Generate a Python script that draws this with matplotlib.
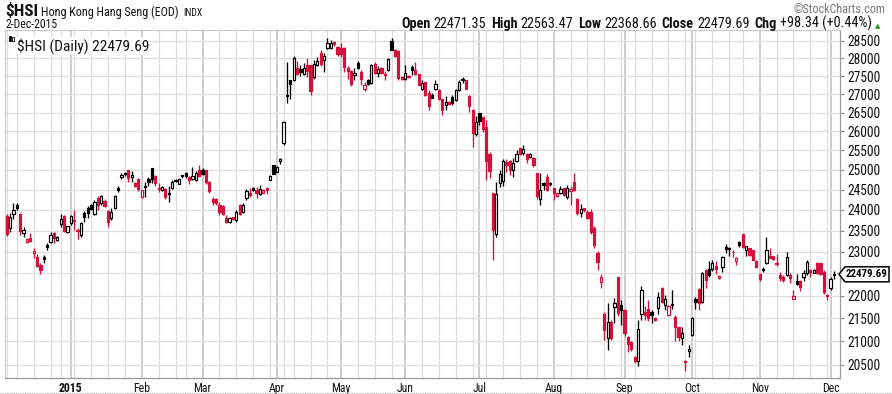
import numpy as np
import pandas as pd
import matplotlib
matplotlib.use("Agg")
import matplotlib.pyplot as plt
from matplotlib.patches import Rectangle, Polygon
from matplotlib.collections import PatchCollection, LineCollection
from matplotlib.transforms import IdentityTransform

# ---------------- data ----------------
START = "2014-12-03"
END = "2015-12-02"
HOLIDAYS = ["2014-12-25", "2014-12-26", "2015-01-01", "2015-02-19", "2015-02-20",
            "2015-04-03", "2015-04-06", "2015-04-07", "2015-05-01", "2015-05-25",
            "2015-07-01", "2015-09-03", "2015-09-28", "2015-10-01", "2015-10-21"]
PREV_CLOSE = 23654.0

OPEN = [23850, 23560, 23900, 24120, 23900, 23450, 23230, 23320, 22980, 22880,
        22700, 22880, 23160, 23230, 23445, 23280, 23660, 23850, 23460, 23680,
        23760, 23520, 23396, 23925, 24050, 24120, 23900, 24290, 24170, 24220,
        23975, 23804, 24050, 24530, 24810, 24910, 24995, 24810, 24660, 24760,
        24326, 24590, 24760, 25040, 24840, 24540, 24490, 24520, 24430, 24530,
        24740, 24650, 24870, 24920, 24820, 24760, 24750, 24995, 24995, 24990,
        24680, 24280, 24270, 24120, 24100, 23800, 23715, 23820, 23755, 24121,
        23960, 24300, 24430, 24535, 24490, 24395, 24430, 24530, 24750, 25120,
        24950, 25220, 25700, 26980, 27390, 27390, 27740, 27700, 27550, 27810,
        27810, 27470, 27800, 28150, 27960, 28290, 28300, 28480, 28335, 28290,
        28290, 27720, 27630, 27530, 27880, 27620, 27150, 27390, 27300, 27840,
        27600, 27740, 27560, 27670, 28510, 28240, 28220, 27470, 27420, 27490,
        27760, 27670, 27550, 27140, 27330, 27030, 26970, 27130, 27114, 26880,
        26704, 26794, 26930, 26840, 27114, 27430, 27390, 26960, 26570, 25930,
        26480, 26390, 26120, 25410, 24410, 23430, 24675, 24720, 25207, 25230,
        24995, 25230, 25550, 25425, 25400, 25320, 25290, 24910, 24270, 24660,
        24830, 24660, 24530, 24350, 24430, 24530, 24330, 24470, 24680, 24260,
        23920, 24040, 23960, 23960, 23555, 22965, 22310, 21580, 21080, 21420,
        21750, 22410, 21790, 21678, 21100, 20985, 20670, 20590, 21600, 21640,
        21690, 21640, 21510, 21715, 22160, 21790, 21570, 21810, 21515, 21300,
        21060, 20590, 20790, 21132, 21915, 22140, 21860, 22578, 22600, 22590,
        22670, 22400, 22650, 23120, 23100, 23000, 22780, 23225, 23420, 23050,
        23080, 23040, 22790, 22486, 22600, 22730, 22900, 22900, 22750, 22463,
        22410, 22463, 22463, 21930, 22320, 22335, 22410, 22520, 22570, 22520,
        22750, 22740, 22540, 22011, 22160, 22471.35]
HIGH = [23900, 23920, 24170, 24170, 23930, 23590, 23330, 23450, 23090, 22950,
        22740, 22925, 23200, 23460, 23460, 23370, 23900, 23877, 23620, 23880,
        24000, 23570, 23710, 23975, 24097, 24150, 24244, 24340, 24370, 24260,
        24000, 24050, 24368, 24600, 24920, 24950, 25000, 24970, 24680, 24790,
        24500, 24680, 24830, 25040, 24870, 24660, 24600, 24540, 24580, 24740,
        24760, 24800, 24880, 24950, 24840, 25080, 24960, 25122, 25050, 25000,
        24720, 24330, 24290, 24200, 24120, 23877, 23835, 23835, 24000, 24140,
        24170, 24510, 24535, 24560, 24575, 24617, 24510, 24570, 24880, 25122,
        25100, 25310, 26280, 27900, 27400, 28060, 27930, 27810, 27860, 28000,
        27815, 27960, 28050, 28240, 28150, 28588, 28520, 28500, 28350, 28430,
        28335, 27770, 27670, 27720, 27930, 27680, 27330, 27420, 27850, 27900,
        27780, 27760, 27640, 28000, 28580, 28260, 28240, 27500, 27810, 27520,
        27810, 27910, 27560, 27390, 27340, 27114, 27030, 27390, 27130, 26880,
        26940, 26810, 26977, 27150, 27390, 27480, 27400, 26970, 26600, 26410,
        26490, 26390, 26300, 25470, 24410, 24700, 24995, 25270, 25270, 25250,
        25290, 25510, 25560, 25640, 25420, 25420, 25320, 24910, 24920, 24680,
        24900, 24690, 24550, 24430, 24590, 24540, 24620, 24580, 24930, 24300,
        24150, 24060, 23990, 24015, 23600, 23020, 22480, 21640, 21840, 21460,
        21950, 22420, 21899, 21690, 21110, 21000, 20680, 21460, 22215, 21765,
        21899, 21670, 21530, 22090, 22200, 22010, 21780, 22130, 21570, 21300,
        21300, 20600, 20918, 21530, 21970, 22160, 22530, 22600, 22790, 22808,
        22790, 22460, 22900, 23180, 23120, 23040, 22880, 23250, 23420, 23140,
        23100, 23050, 22810, 22500, 22650, 23360, 23090, 22910, 22960, 22540,
        22463, 22990, 22500, 22124, 22480, 22340, 22578, 22800, 22600, 22600,
        22760, 22750, 22578, 22030, 22420, 22563.47]
LOW = [23380, 23460, 23780, 24000, 23400, 23350, 23200, 23230, 22860, 22650,
       22490, 22740, 23040, 23200, 23200, 23260, 23590, 23460, 23440, 23630,
       23515, 23300, 23350, 23710, 23805, 24000, 23877, 24000, 24120, 24080,
       23590, 23755, 24025, 24440, 24760, 24850, 24700, 24700, 24560, 24475,
       24300, 24310, 24590, 24670, 24600, 24450, 24470, 24270, 24200, 24510,
       24700, 24640, 24800, 24800, 24650, 24742, 24720, 24830, 24860, 24650,
       24420, 24121, 24130, 23877, 23880, 23690, 23690, 23760, 23700, 23880,
       23935, 24244, 24330, 24470, 24285, 24370, 24420, 24400, 24740, 24890,
       24940, 25150, 25640, 26750, 26860, 27370, 27530, 27500, 27530, 27480,
       26980, 27420, 27780, 27770, 27620, 28280, 28280, 28350, 28060, 28050,
       27620, 27420, 27220, 27390, 27690, 27250, 27100, 27250, 27280, 27560,
       27480, 27560, 27400, 27650, 28230, 28050, 27400, 27380, 27380, 27440,
       27530, 27540, 27250, 27110, 26960, 26569, 26900, 27110, 26840, 26440,
       26570, 26700, 26704, 26820, 27090, 27300, 27140, 26520, 25600, 25880,
       26167, 25970, 24742, 24790, 22808, 23340, 24560, 24580, 24950, 24860,
       24830, 25200, 25380, 25380, 25180, 25290, 25060, 24270, 24120, 24492,
       24460, 24600, 24250, 24330, 24390, 24340, 24280, 24120, 24460, 23877,
       23840, 23960, 23780, 23430, 23100, 22578, 22170, 21025, 20812, 21025,
       21390, 21545, 21348, 21110, 20780, 20800, 20550, 20480, 21470, 21457,
       21440, 21400, 21430, 21600, 21840, 21680, 21560, 21700, 21000, 21000,
       20918, 20368, 20667, 21110, 21700, 21678, 21840, 22160, 22410, 22560,
       22490, 22380, 22540, 22970, 22900, 22880, 22690, 23110, 23100, 22900,
       22900, 22800, 22620, 22330, 22540, 22710, 22860, 22820, 22670, 22330,
       22310, 22440, 22290, 21930, 22236, 22100, 22320, 22463, 22410, 22500,
       22480, 22470, 22030, 21900, 22124, 22368.66]
CLOSE = [23430, 23832, 24002, 24047, 23485, 23524, 23312, 23249, 23027, 22671,
         22586, 22832, 23117, 23408, 23333, 23349, 23773, 23501, 23605, 23857,
         23721, 23485, 23681, 23835, 23925, 24026, 24195, 24112, 24350, 24103,
         23707, 23950, 24350, 24500, 24868, 24890, 24790, 24868, 24595, 24507,
         24490, 24555, 24680, 24760, 24660, 24520, 24560, 24330, 24400, 24700,
         24720, 24780, 24832, 24836, 24750, 24850, 24930, 24843, 24887, 24700,
         24465, 24190, 24164, 23960, 23897, 23700, 23797, 23790, 23958, 23901,
         24121, 24468, 24375, 24493, 24410, 24520, 24497, 24486, 24855, 24900,
         25082, 25275, 26236, 26944, 27272, 28016, 27561, 27618, 27739, 27653,
         27094, 27850, 27933, 27827, 28061, 28433, 28442, 28400, 28133, 28123,
         27755, 27640, 27289, 27577, 27718, 27407, 27249, 27286, 27822, 27591,
         27693, 27585, 27523, 27993, 28249, 28081, 27454, 27424, 27597, 27466,
         27658, 27551, 27260, 27316, 26989, 26687, 26907, 27280, 26861, 26566,
         26794, 26730, 26760, 27114, 27333, 27404, 27145, 26663, 25966, 26250,
         26282, 26064, 25236, 24976, 23516, 24392, 24901, 25224, 25121, 25000,
         25163, 25415, 25404, 25536, 25282, 25398, 25128, 24351, 24503, 24619,
         24497, 24636, 24411, 24406, 24514, 24375, 24552, 24521, 24498, 23916,
         24018, 23991, 23815, 23474, 23167, 22757, 22410, 21252, 21405, 21080,
         21838, 21612, 21670, 21185, 20935, 20840, 20584, 21259, 22131, 21562,
         21504, 21561, 21455, 21966, 21854, 21920, 21756, 21797, 21302, 21095,
         21186, 20556, 20846, 21506, 21854, 21831, 22515, 22354, 22458, 22730,
         22600, 22439, 22888, 23068, 23075, 22989, 22845, 23152, 23116, 23135,
         22925, 22820, 22640, 22370, 22568, 23053, 22867, 22830, 22727, 22402,
         22352, 22889, 22397, 21990, 22265, 22189, 22500, 22754, 22540, 22578,
         22499, 22488, 22068, 21996, 22381, 22479.69]

Y_TICKS = list(range(20500, 29000, 500))
SYMBOL = "$HSI"
NAME = "Hong Kong Hang Seng (EOD)"
EXCHANGE = "INDX"
DATE_LABEL = "2-Dec-2015"
CHG = 98.34
CHG_PCT = 0.44

# ---------------- styling ----------------
W, H = 892, 394
FONT = ["Roboto Condensed", "Open Sans Condensed", "Liberation Sans Narrow",
        "Liberation Sans", "DejaVu Sans"]
RED = "#d4103c"
GRID = "#dedede"
MGRID = "#c0c0c0"
TXT = "#111111"

plt.rcParams["font.family"] = FONT

o = np.array(OPEN, float)
h = np.array(HIGH, float)
l = np.array(LOW, float)
c = np.array(CLOSE, float)
n = len(c)
x = np.arange(n)
dates = pd.bdate_range(START, END, freq="C", holidays=HOLIDAYS)[:n]

prev = np.r_[PREV_CLOSE, c[:-1]]
colors = np.where(c >= prev, "black", RED)
hollow = c > o

fig = plt.figure(figsize=(W / 100, H / 100), dpi=100)
ax = fig.add_axes([5 / W, 16 / H, 835 / W, 348 / H])
ax.set_facecolor("white")
R = fig.canvas.get_renderer()


def width_of(s, size, weight="normal", family=None):
    t = fig.text(0, 0, s, fontsize=size, fontweight=weight,
                 **({"family": family} if family else {}))
    w = t.get_window_extent(renderer=R).width
    t.remove()
    return w


def fit_size(s, target, weight="normal", base=10.0, family=None):
    return base * target / width_of(s, base, weight, family)


# gridlines: weekly and monthly
wk = dates.to_period("W")
mo = dates.to_period("M")
week_start = np.r_[True, wk[1:] != wk[:-1]]
month_start = np.r_[False, mo[1:] != mo[:-1]]
for i in np.where(week_start & ~month_start)[0]:
    ax.axvline(i, color=GRID, lw=0.9, zorder=0)
for i in np.where(month_start)[0]:
    ax.axvline(i, color=MGRID, lw=1.1, zorder=0)

ax.set_yscale("log")
ax.set_ylim(20230, 28820)
ax.set_xlim(-0.5, n + 0.8)
ax.set_yticks(Y_TICKS)
# the 22500 label sits under the last-price tag in the reference
ax.set_yticklabels(["" if abs(t - CLOSE[-1]) < 200 else str(t) for t in Y_TICKS])
ax.yaxis.set_minor_locator(matplotlib.ticker.NullLocator())
ax.yaxis.tick_right()
ax.grid(axis="y", color=GRID, lw=0.9, zorder=0)
tick_size = fit_size("28500", 33)
ax.tick_params(axis="y", which="major", length=3, width=0.8, color="#888888",
               labelsize=tick_size, pad=2, labelcolor=TXT)

mpos = np.where(month_start)[0]
mlabels = [("%d" % d.year) if d.month == 1 else d.strftime("%b") for d in dates[mpos]]
ax.set_xticks(mpos)
ax.set_xticklabels(mlabels)
ax.tick_params(axis="x", length=0, labelsize=fit_size("Feb", 17), pad=3, labelcolor=TXT)
for t in ax.get_xticklabels():
    if t.get_text().isdigit():
        t.set_fontweight("bold")

for s in ["left", "top"]:
    ax.spines[s].set_color("#c8c8c8")
    ax.spines[s].set_linewidth(0.8)
ax.spines["right"].set_color("#999999")
ax.spines["bottom"].set_color("#999999")
ax.spines["right"].set_linewidth(0.9)
ax.spines["bottom"].set_linewidth(0.9)

# candles
bw = 0.66
wick_segs = [[(xi, li), (xi, hi)] for xi, li, hi in zip(x, l, h)]
ax.add_collection(LineCollection(wick_segs, colors=list(colors), linewidths=0.95, zorder=2))
rects = []
fcs = []
for xi, oi, ci, col, hol in zip(x, o, c, colors, hollow):
    lo, hi = min(oi, ci), max(oi, ci)
    rects.append(Rectangle((xi - bw / 2, lo), bw, hi - lo))
    fcs.append("white" if hol else col)
ax.add_collection(PatchCollection(rects, facecolors=fcs, edgecolors=list(colors),
                                  linewidths=0.85, zorder=3))

# ---------------- header ----------------
sym = "\\" + SYMBOL
s1 = fit_size(sym, 33, "bold")
t1 = fig.text(5 / W, 1 - 16 / H, sym, fontsize=s1, fontweight="bold",
              va="baseline", ha="left", color=TXT)
xx = 5 + t1.get_window_extent(renderer=R).width + 3
s2 = fit_size(NAME, 138)
t2 = fig.text(xx / W, 1 - 16 / H, NAME, fontsize=s2, va="baseline", ha="left", color=TXT)
xx += t2.get_window_extent(renderer=R).width + 4
fig.text(xx / W, 1 - 16 / H, EXCHANGE, fontsize=s2 * 0.8, va="baseline", ha="left", color=TXT)
fig.text(5 / W, 1 - 28 / H, DATE_LABEL, fontsize=fit_size(DATE_LABEL, 52), va="baseline",
         ha="left", color=TXT)
fig.text(886 / W, 1 - 13 / H, "\u00a9StockCharts.com", fontsize=fit_size("\u00a9StockCharts.com", 92),
         va="baseline", ha="right", color="#777777")

pieces = [("Open", True, 3), ("%.2f" % OPEN[-1], False, 5),
          ("High", True, 3), ("%.2f" % HIGH[-1], False, 5),
          ("Low", True, 3), ("%.2f" % LOW[-1], False, 5),
          ("Close", True, 3), ("%.2f" % CLOSE[-1], False, 5),
          ("Chg", True, 3), ("%+.2f (%+.2f%%)" % (CHG, CHG_PCT), False, 3)]
base = 10.0
tot = sum(width_of(s, base, "bold" if b else "normal") for s, b, g in pieces)
gaps = sum(g for s, b, g in pieces)
hsize = base * (876 - 401 - gaps) / tot
xx = 401
for s, bold, gap in pieces:
    t = fig.text(xx / W, 1 - 28 / H, s, fontsize=hsize, color=TXT,
                 fontweight="bold" if bold else "normal", va="baseline", ha="left")
    xx += t.get_window_extent(renderer=R).width + gap
fig.text(xx / W, 1 - 28 / H, "\u25b2", fontsize=5.0, color="#1a9a1a", va="baseline", ha="left",
         family=["DejaVu Sans"])

# legend inside plot
leg = sym + " (Daily) %.2f" % CLOSE[-1]
ax.text(0.0145, 0.977, leg, transform=ax.transAxes,
        fontsize=fit_size(leg, 132), va="top", ha="left", color=TXT,
        bbox=dict(facecolor="white", edgecolor="none", pad=0.6), zorder=5)
fig.add_artist(Rectangle((8.5, H - 41), 2, 5, transform=IdentityTransform(),
                         facecolor="black", edgecolor="black", lw=0.6))
fig.add_artist(Rectangle((11.5, H - 40.5), 2, 4, transform=IdentityTransform(),
                         facecolor="white", edgecolor="black", lw=0.6))

# last price tag
yc = ax.transData.transform((0, CLOSE[-1]))[1]
xl = ax.transAxes.transform((1, 0))[0] - 1
pts = [(xl, yc), (xl + 6, yc + 7.5), (xl + 50, yc + 7.5), (xl + 50, yc - 7.5), (xl + 6, yc - 7.5)]
fig.add_artist(Polygon(pts, closed=True, transform=IdentityTransform(),
                       facecolor="white", edgecolor="black", lw=1.1, zorder=6))
lab = "%.2f" % CLOSE[-1]
fig.text((xl + 28) / W, yc / H, lab, fontsize=fit_size(lab, 42, "bold"), fontweight="bold",
         ha="center", va="center", color="black", zorder=7)

# dotted bottom rule
fig.add_artist(matplotlib.lines.Line2D([0, 1], [1.5 / H, 1.5 / H], transform=fig.transFigure,
                                       color="#aaaaaa", lw=0.8, ls=(0, (1, 1))))

fig.savefig("out.png", dpi=100)
